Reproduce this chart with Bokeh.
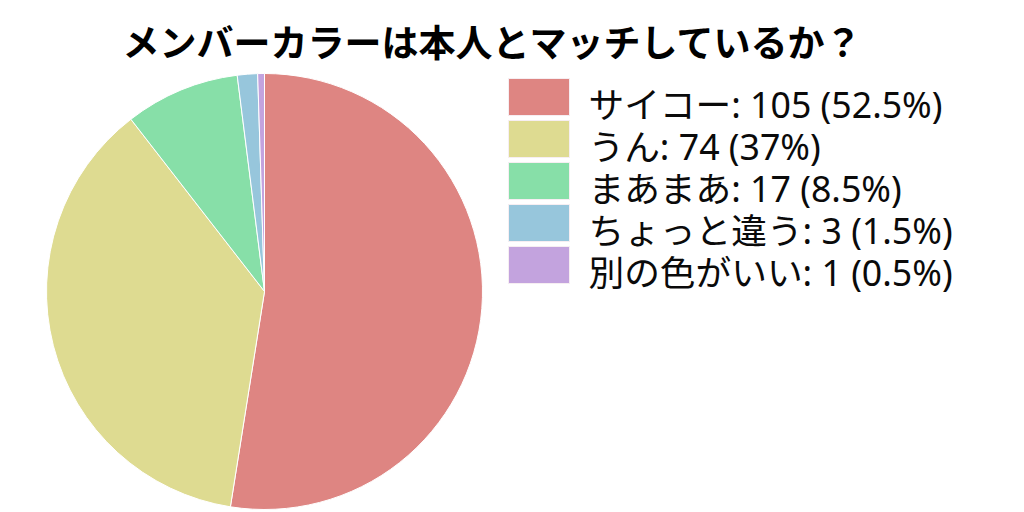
import math
from bokeh.plotting import figure
from bokeh.models import Range1d
from bokeh.core.properties import value
from bokeh.embed import file_html
from bokeh.resources import INLINE

title = "メンバーカラーは本人とマッチしているか？"
labels = ["サイコー", "うん", "まあまあ", "ちょっと違う", "別の色がいい"]
counts = [105, 74, 17, 3, 1]
pct_text = ["52.5%", "37%", "8.5%", "1.5%", "0.5%"]
colors = ["#de8582", "#dedb91", "#87dfa8", "#97c6dc", "#c3a3de"]

W, H = 1008, 512
p = figure(width=W, height=H, output_backend="svg", toolbar_location=None,
           x_range=Range1d(0, W), y_range=Range1d(0, H), min_border=0)
p.axis.visible = False
p.grid.visible = False
p.outline_line_color = None
p.background_fill_color = "white"

total = sum(counts)
cx, cy, r = 264, 221, 218
starts, ends = [], []
cum = 0
for c in counts:
    starts.append(math.pi / 2 - 2 * math.pi * cum / total)
    cum += c
    ends.append(math.pi / 2 - 2 * math.pi * cum / total)

p.wedge(x=[cx] * len(counts), y=[cy] * len(counts), radius=r,
        start_angle=starts, end_angle=ends, direction="clock",
        fill_color=colors, line_color="white", line_width=1)

# legend
n = len(labels)
tops = [434 - 42 * i for i in range(n)]
p.quad(left=[508] * n, right=[569] * n, top=tops, bottom=[t - 37 for t in tops],
       fill_color=colors, line_color="#f6eef2", line_width=1)
texts = [f"{l}: {c} ({pt})" for l, c, pt in zip(labels, counts, pct_text)]
p.text(x=[588] * n, y=[t - 25 for t in tops], text=texts,
       text_font=value("Noto Sans, Noto Sans CJK JP"), text_font_size="35.7px",
       text_baseline="middle", text_align="left", text_color="#0a0a0a")

p.text(x=[492], y=[472], text=[title], text_font=value("Noto Sans CJK JP"),
       text_font_style="bold", text_font_size="37px", text_align="center",
       text_baseline="middle", text_color="black")

open("out.html", "w").write(file_html(p, INLINE))
